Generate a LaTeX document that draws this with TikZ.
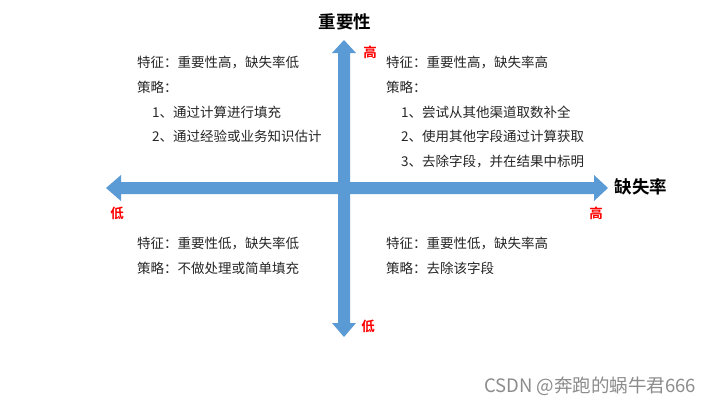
\documentclass[tikz,border=0pt]{standalone}
\usepackage{fontspec}
\newfontfamily\cjk{Noto Sans CJK SC}
\newfontfamily\cjkb{Noto Sans CJK SC Bold}
\definecolor{axisblue}{HTML}{5B9BD5}
\definecolor{txt}{HTML}{262626}
\begin{document}
\begin{tikzpicture}[x=1pt,y=-1pt,
  body/.style={anchor=west,inner sep=0pt,text=txt,font=\cjk\fontsize{13.5}{16}\selectfont},
  axtitle/.style={inner sep=0pt,text=black,font=\cjkb\fontsize{17.5}{20}\selectfont},
  tick/.style={inner sep=0pt,text=red,font=\cjkb\fontsize{13.5}{15}\selectfont},
  axisarrow/.style={fill=axisblue,draw=none}]
\useasboundingbox[fill=white] (0,0) rectangle (720,405);
% horizontal double arrow
\fill[axisblue] (106,188) -- (121,175) -- (121,182) -- (594,182) -- (594,175) -- (608,188)
  -- (594,201) -- (594,194) -- (121,194) -- (121,201) -- cycle;
% vertical double arrow
\fill[axisblue] (344,40) -- (356,53) -- (350,53) -- (350,323) -- (356,323) -- (344,337)
  -- (332,323) -- (338,323) -- (338,53) -- (332,53) -- cycle;
\node[axtitle] (ty) at (345,22) {重要性};
\node[axtitle] (tx) at (641,187) {缺失率};
\node[tick] (yhi) at (370,52) {高};
\node[tick] (ylo) at (368,326) {低};
\node[tick] (xlo) at (117,213) {低};
\node[tick] (xhi) at (596,213) {高};
% top-left
\node[body] (a1) at (137,63) {特征：重要性高，缺失率低};
\node[body] (a2) at (137,87) {策略：};
\node[body] (a3) at (152,112) {1、通过计算进行填充};
\node[body] (a4) at (152,136) {2、通过经验或业务知识估计};
% top-right
\node[body] (b1) at (386,63) {特征：重要性高，缺失率高};
\node[body] (b2) at (386,87) {策略：};
\node[body] (b3) at (401,112) {1、尝试从其他渠道取数补全};
\node[body] (b4) at (401,136) {2、使用其他字段通过计算获取};
\node[body] (b5) at (401,161) {3、去除字段，并在结果中标明};
% bottom-left
\node[body] (c1) at (137,243) {特征：重要性低，缺失率低};
\node[body] (c2) at (137,268) {策略：不做处理或简单填充};
% bottom-right
\node[body] (d1) at (386,243) {特征：重要性低，缺失率高};
\node[body] (d2) at (386,268) {策略：去除该字段};
% watermark
\node[inner sep=0pt,text=black!45,font=\cjk\fontsize{18.5}{22}\selectfont] (wm) at (590,386) {CSDN @奔跑的蜗牛君666};
\end{tikzpicture}
\end{document}
